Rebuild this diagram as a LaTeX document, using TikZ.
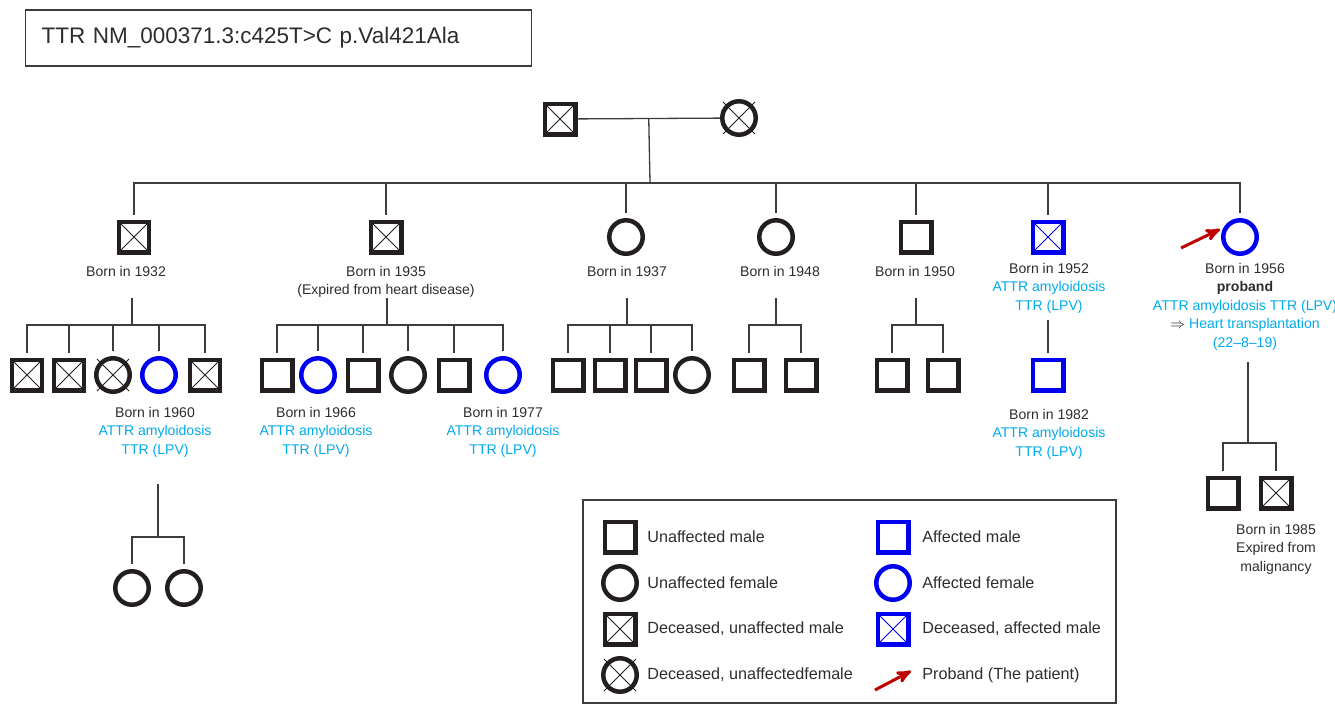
\documentclass[tikz,border=0pt]{standalone}
\usepackage{fontspec}
\setmainfont{Liberation Sans}
\usepackage{amsmath,amssymb}
\usetikzlibrary{arrows,calc}

\definecolor{pedline}{RGB}{35,31,32}
\definecolor{labelgray}{RGB}{45,45,45}
\definecolor{linkgray}{RGB}{60,60,60}
\definecolor{affblue}{RGB}{0,0,240}
\definecolor{diagblue}{RGB}{0,170,236}
\definecolor{probred}{RGB}{190,0,0}
\newcommand{\diag}[1]{\textcolor{diagblue}{#1}}

\begin{document}
\begin{tikzpicture}[x=0.02cm, y=-0.02cm, >=stealth', font=\fontsize{8}{10.5}\selectfont]
\tikzstyle{person}=[draw=pedline, line width=0.09cm, fill=white, inner sep=0pt]
\tikzstyle{male}=[person, rectangle, minimum size=0.61cm]
\tikzstyle{female}=[person, circle, minimum size=0.67cm]
\tikzstyle{affected}=[draw=affblue]
\tikzset{dead/.style={path picture={\draw[line width=0.02cm, #1]
    (path picture bounding box.north west) -- (path picture bounding box.south east)
    (path picture bounding box.north east) -- (path picture bounding box.south west);}},
  dead/.default=pedline}
\tikzstyle{link}=[draw=linkgray, line width=0.026cm]
\tikzstyle{crossline}=[draw=pedline, line width=0.02cm]
\tikzstyle{born}=[align=center, inner sep=0pt, anchor=north, text=labelgray]
\tikzstyle{key}=[anchor=west, inner sep=0pt, text=labelgray, font=\fontsize{9.2}{11}\selectfont]
\tikzstyle{probarrow}=[->, draw=probred, line width=0.06cm]
\useasboundingbox (0,0) rectangle (1335,704);

% title
\node[draw=linkgray, line width=0.025cm, anchor=west, text width=9.48cm, inner xsep=0.32cm,
  minimum height=1.12cm, align=left, text=labelgray, font=\fontsize{12.8}{15}\selectfont]
  (title) at (25,38) {TTR NM\_000371.3:c425T>C p.Val421Ala};

% generation I
\node[male,dead]    (g1m) at (560,119) {};
\node[female]       (g1f) at (739,118) {};
\draw[link] (g1m) -- (g1f) coordinate[midway] (m1);
\coordinate (s1) at (650,183);
\draw[link] (m1) -- (s1);

% generation II
\node[male,dead]    (g2a) at (134,237) {};
\node[male,dead]    (g2b) at (386,237) {};
\node[female]       (g2c) at (626,237) {};
\node[female]       (g2d) at (776,237) {};
\node[male]         (g2e) at (916,237) {};
\node[male,affected,dead=affblue] (g2f) at (1048,237) {};
\node[female,affected] (g2g) at (1240,237) {};
\foreach \c in {g2a,g2b,g2c,g2d,g2e,g2f,g2g}
  \draw[link, shorten <=0.1cm] (\c.north) |- (s1);

\node[born] (la) at (126,266) {Born in 1932};
\node[born] (lb) at (386,266) {Born in 1935\\(Expired from heart disease)};
\node[born] (lc) at (627,266) {Born in 1937};
\node[born] (ld) at (780,266) {Born in 1948};
\node[born] (le) at (915,266) {Born in 1950};
\node[born] (lf) at (1049,263) {Born in 1952\\\diag{ATTR amyloidosis}\\\diag{TTR (LPV)}};
\node[born] (lg) at (1245,263) {Born in 1956\\\textbf{proband}\\\diag{ATTR amyloidosis TTR (LPV)}\\$\Rightarrow$ \diag{Heart transplantation}\\\diag{(22--8--19)}};

\coordinate (pa) at (1181,248);
\draw[probarrow, shorten >=0.08cm] (pa) -- (g2g.150);

% generation III
\node[male,dead]    (a1) at (27,375) {};
\node[male,dead]    (a2) at (69,375) {};
\node[female]       (a3) at (113,375) {};
\node[female,affected] (a4) at (159,375) {};
\node[male,dead]    (a5) at (205,375) {};
\coordinate (ta) at (132,298);
\coordinate (sa) at (132,325);
\draw[link] (ta) -- (sa);
\foreach \c in {a1,a2,a3,a4,a5}
  \draw[link, shorten <=0.1cm] (\c.north) |- (sa);

\node[male]         (b1) at (277,375) {};
\node[female,affected] (b2) at (318,375) {};
\node[male]         (b3) at (363,375) {};
\node[female]       (b4) at (408,375) {};
\node[male]         (b5) at (454,375) {};
\node[female,affected] (b6) at (503,375) {};
\coordinate (tb) at (387,298);
\coordinate (sb) at (387,325);
\draw[link] (tb) -- (sb);
\foreach \c in {b1,b2,b3,b4,b5,b6}
  \draw[link, shorten <=0.1cm] (\c.north) |- (sb);

\node[male]         (c1) at (568,375) {};
\node[male]         (c2) at (610,375) {};
\node[male]         (c3) at (651,375) {};
\node[female]       (c4) at (692,375) {};
\coordinate (tc) at (627,298);
\coordinate (sc) at (627,325);
\draw[link] (tc) -- (sc);
\foreach \c in {c1,c2,c3,c4}
  \draw[link, shorten <=0.1cm] (\c.north) |- (sc);

\node[male]         (d1) at (749,375) {};
\node[male]         (d2) at (801,375) {};
\coordinate (td) at (776,298);
\coordinate (sd) at (776,325);
\draw[link] (td) -- (sd);
\foreach \c in {d1,d2}
  \draw[link, shorten <=0.1cm] (\c.north) |- (sd);

\node[male]         (e1) at (892,375) {};
\node[male]         (e2) at (943,375) {};
\coordinate (te) at (916,298);
\coordinate (se) at (916,325);
\draw[link] (te) -- (se);
\foreach \c in {e1,e2}
  \draw[link, shorten <=0.1cm] (\c.north) |- (se);

\node[male,affected] (f1) at (1048,375) {};
\coordinate (tf) at (1048,320);
\draw[link, shorten >=0.1cm] (tf) -- (f1.north);

\node[male]         (k1g) at (1223,493) {};
\node[male,dead]    (k2g) at (1276,493) {};
\coordinate (tg) at (1248,362);
\coordinate (sg) at (1248,443);
\draw[link] (tg) -- (sg);
\foreach \c in {k1g,k2g}
  \draw[link, shorten <=0.1cm] (\c.north) |- (sg);

\node[born] (l60) at (155,407) {Born in 1960\\\diag{ATTR amyloidosis}\\\diag{TTR (LPV)}};
\node[born] (l66) at (316,407) {Born in 1966\\\diag{ATTR amyloidosis}\\\diag{TTR (LPV)}};
\node[born] (l77) at (503,407) {Born in 1977\\\diag{ATTR amyloidosis}\\\diag{TTR (LPV)}};
\node[born] (l82) at (1049,409) {Born in 1982\\\diag{ATTR amyloidosis}\\\diag{TTR (LPV)}};
\node[born] (l85) at (1276,524) {Born in 1985\\Expired from\\malignancy};

% generation IV
\node[female]       (h1) at (132,588) {};
\node[female]       (h2) at (184,588) {};
\coordinate (th) at (158,484);
\coordinate (sh) at (158,537);
\draw[link] (th) -- (sh);
\foreach \c in {h1,h2}
  \draw[link, shorten <=0.1cm] (\c.north) |- (sh);

% legend
\draw[draw=linkgray, line width=0.025cm] (583,500) rectangle (1116,703);
\node[male]         (k1) at (620,537) {};
\node[female]       (k2) at (620,583) {};
\node[male,dead]    (k3) at (620,629) {};
\node[female]       (k4) at (620,675) {};
\node[male,affected] (k5) at (893,537) {};
\node[female,affected] (k6) at (893,583) {};
\node[male,affected,dead=affblue] (k7) at (893,629) {};
\coordinate (ka) at (875,690);
\coordinate (kb) at (911,671);
\draw[probarrow] (ka) -- (kb);
\node[key] at (647,537) {Unaffected male};
\node[key] at (647,583) {Unaffected female};
\node[key] at (647,629) {Deceased, unaffected male};
\node[key] at (647,675) {Deceased, unaffectedfemale};
\node[key] at (922,537) {Affected male};
\node[key] at (922,583) {Affected female};
\node[key] at (922,629) {Deceased, affected male};
\node[key] at (922,675) {Proband (The patient)};

% crosses of the deceased women
\foreach \n in {g1f,a3,k4}
  \draw[crossline] ($(\n)+(-16,-16)$) -- ($(\n)+(16,16)$)
                   ($(\n)+(-16,16)$) -- ($(\n)+(16,-16)$);
\end{tikzpicture}
\end{document}
